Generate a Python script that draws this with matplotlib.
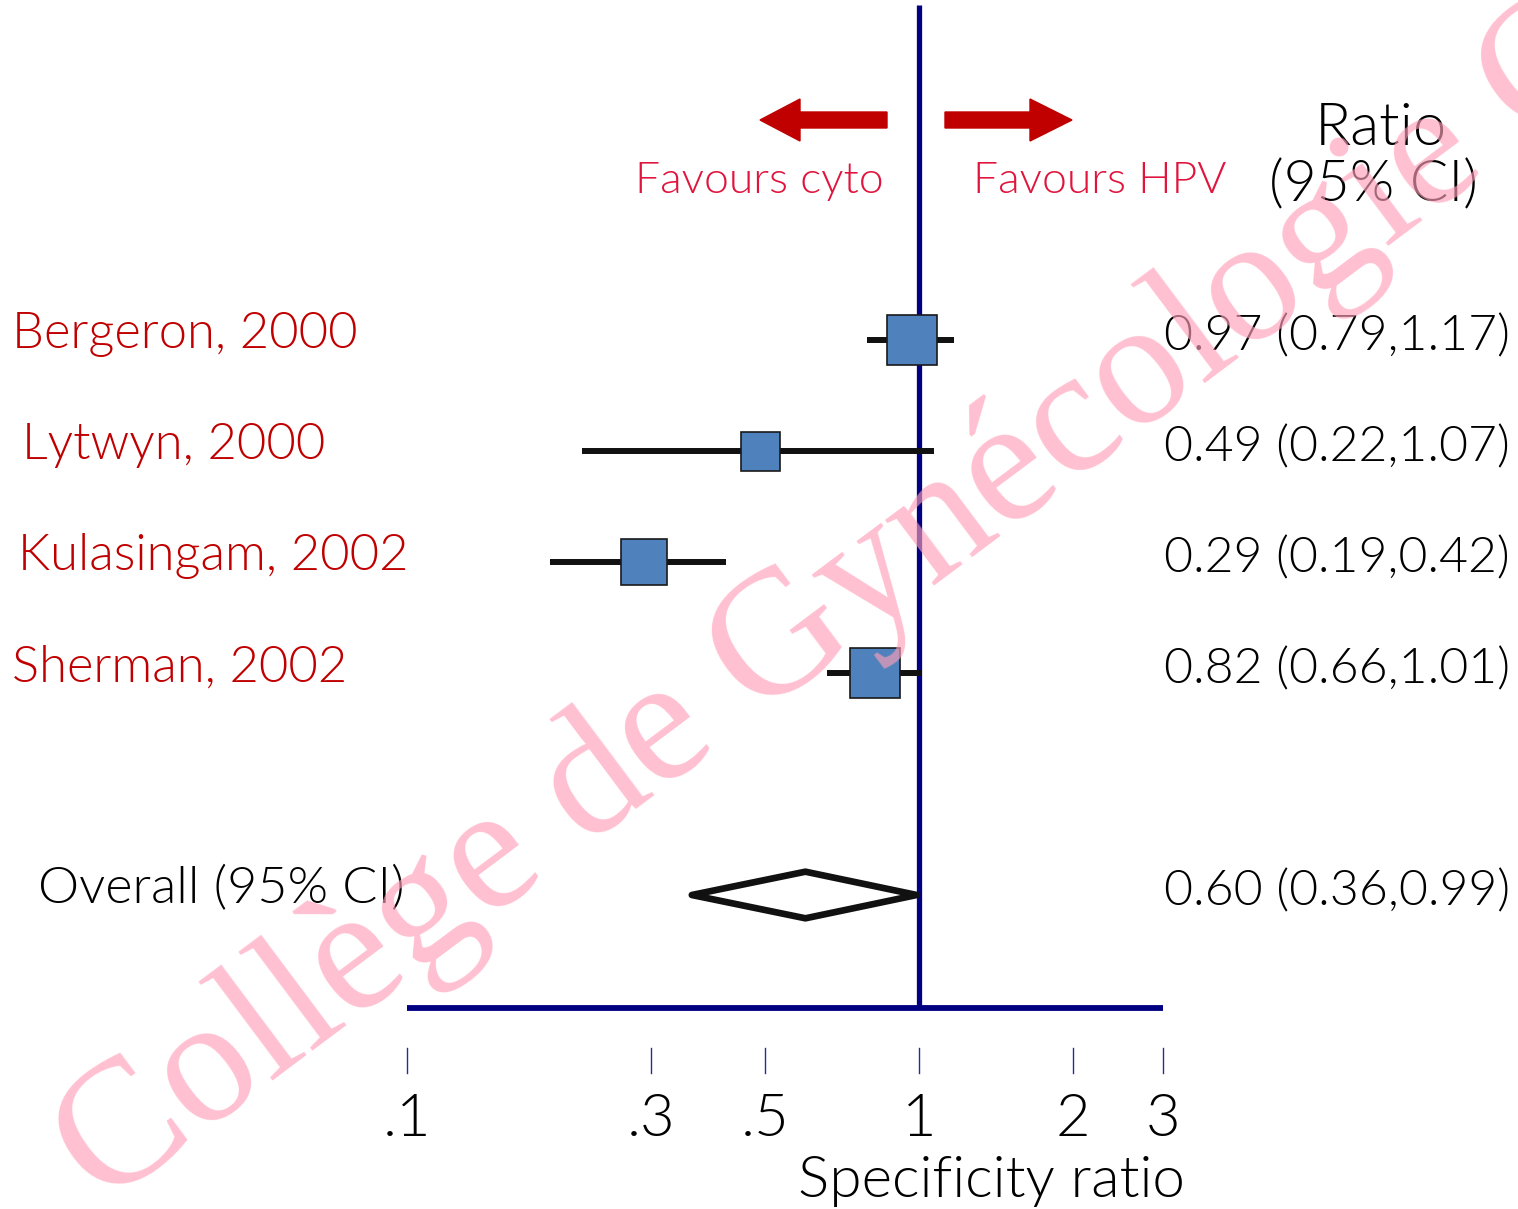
import numpy as np
import matplotlib
matplotlib.use('Agg')
import matplotlib.pyplot as plt
from matplotlib.patches import FancyArrow, Polygon
from matplotlib.transforms import IdentityTransform

# studies (top to bottom)
studies = ['Bergeron, 2000', 'Lytwyn, 2000', 'Kulasingam, 2002', 'Sherman, 2002']
ratio = [0.97, 0.49, 0.29, 0.82]
ci_low = [0.79, 0.22, 0.19, 0.66]
ci_high = [1.17, 1.07, 0.42, 1.01]
weights = [50, 39, 47, 50]  # square size (px)

overall_label = 'Overall (95% CI)'
overall = 0.60
overall_low = 0.36
overall_high = 0.99

tick_vals = [0.1, 0.3, 0.5, 1, 2, 3]
tick_labels = ['.1', '.3', '.5', '1', '2', '3']

plt.rcParams['font.family'] = ['Lato', 'DejaVu Sans']
plt.rcParams['font.weight'] = 300

fig = plt.figure(figsize=(15.18, 12.09), dpi=100)
ax = fig.add_axes([0, 0, 1, 1])
ax.set_xscale('log')
ax.set_xlim(10 ** (-919 / 512), 10 ** (599 / 512))
ax.set_ylim((1209 - 340) / 111, -340 / 111)
ax.axis('off')

navy = '#000080'
red = '#C00000'
pinkred = '#E0143C'
H = 1209

rows = np.arange(len(studies))
overall_row = 5

# reference line and axis
ax.plot([1, 1], [-3.02, 6.02], color=navy, lw=3.8, zorder=1, solid_capstyle='butt')
ax.plot([0.1, 3], [6.02, 6.02], color=navy, lw=4.2, zorder=1, solid_capstyle='butt')
for v, lab in zip(tick_vals, tick_labels):
    ax.plot([v, v], [6.38, 6.6], color='#2a2aa0', lw=1.0)
    ax.text(v, 7.17, lab, ha='center', va='baseline', fontsize=43, color='black')
fig.text(798 / 1518, 1 - 1197 / H, 'Specificity ratio', ha='left', va='baseline',
         fontsize=42, color='black')

# study CIs and squares
offsets = [0, 10, 6, 0]
for r, name, m, lo, hi, w, dx in zip(rows, studies, ratio, ci_low, ci_high, weights, offsets):
    ax.plot([lo, hi], [r, r], color='#111111', lw=4.3, zorder=2, solid_capstyle='butt')
    ax.plot(m, r, marker='s', markersize=w * 0.72, markerfacecolor='#4F81BD',
            markeredgecolor='#1a1a1a', markeredgewidth=1.2, zorder=3, linestyle='none')
    ax.text((12 + dx) / 1518, r + 0.075, name, transform=ax.get_yaxis_transform(),
            ha='left', va='baseline', fontsize=36.5, color=red)
    ax.text(1510 / 1518, r + 0.09, f'{m:.2f} ({lo:.2f},{hi:.2f})',
            transform=ax.get_yaxis_transform(), ha='right', va='baseline',
            fontsize=36, color='black')

# overall diamond
dia = Polygon([[overall_low, overall_row], [overall, overall_row - 0.21],
               [overall_high, overall_row], [overall, overall_row + 0.21]],
              closed=True, facecolor='white', edgecolor='#111111', lw=4.8, zorder=2,
              joinstyle='round')
ax.add_patch(dia)
ax.text(38 / 1518, overall_row + 0.07, overall_label, transform=ax.get_yaxis_transform(),
        ha='left', va='baseline', fontsize=37.5, color='black')
ax.text(1510 / 1518, overall_row + 0.09, f'{overall:.2f} ({overall_low:.2f},{overall_high:.2f})',
        transform=ax.get_yaxis_transform(), ha='right', va='baseline',
        fontsize=36, color='black')

# header
fig.add_artist(FancyArrow(887, H - 120, -127, 0, width=16, head_width=42, head_length=40,
                          length_includes_head=True, color=red, transform=IdentityTransform()))
fig.add_artist(FancyArrow(945, H - 120, 127, 0, width=16, head_width=42, head_length=42,
                          length_includes_head=True, color=red, transform=IdentityTransform()))
fig.text(759 / 1518, 1 - 193 / H, 'Favours cyto', ha='center', va='baseline',
         fontsize=32, color=pinkred)
fig.text(1100 / 1518, 1 - 193 / H, 'Favours HPV', ha='center', va='baseline',
         fontsize=32, color=pinkred)
fig.text(1381 / 1518, 1 - 145 / H, 'Ratio', ha='center', va='baseline',
         fontsize=43, color='black')
fig.text(1373 / 1518, 1 - 201 / H, '(95% CI)', ha='center', va='baseline',
         fontsize=41, color='black')

# watermark
fig.text(103 / 1518, 1 - 1208 / H, 'Collège de Gynécologie C', family='Liberation Serif',
         weight='normal', fontsize=129, color='#FF9FB8', alpha=0.65, rotation=36.8,
         rotation_mode='anchor', ha='left', va='baseline', zorder=10)

fig.savefig('out.png', dpi=100)
